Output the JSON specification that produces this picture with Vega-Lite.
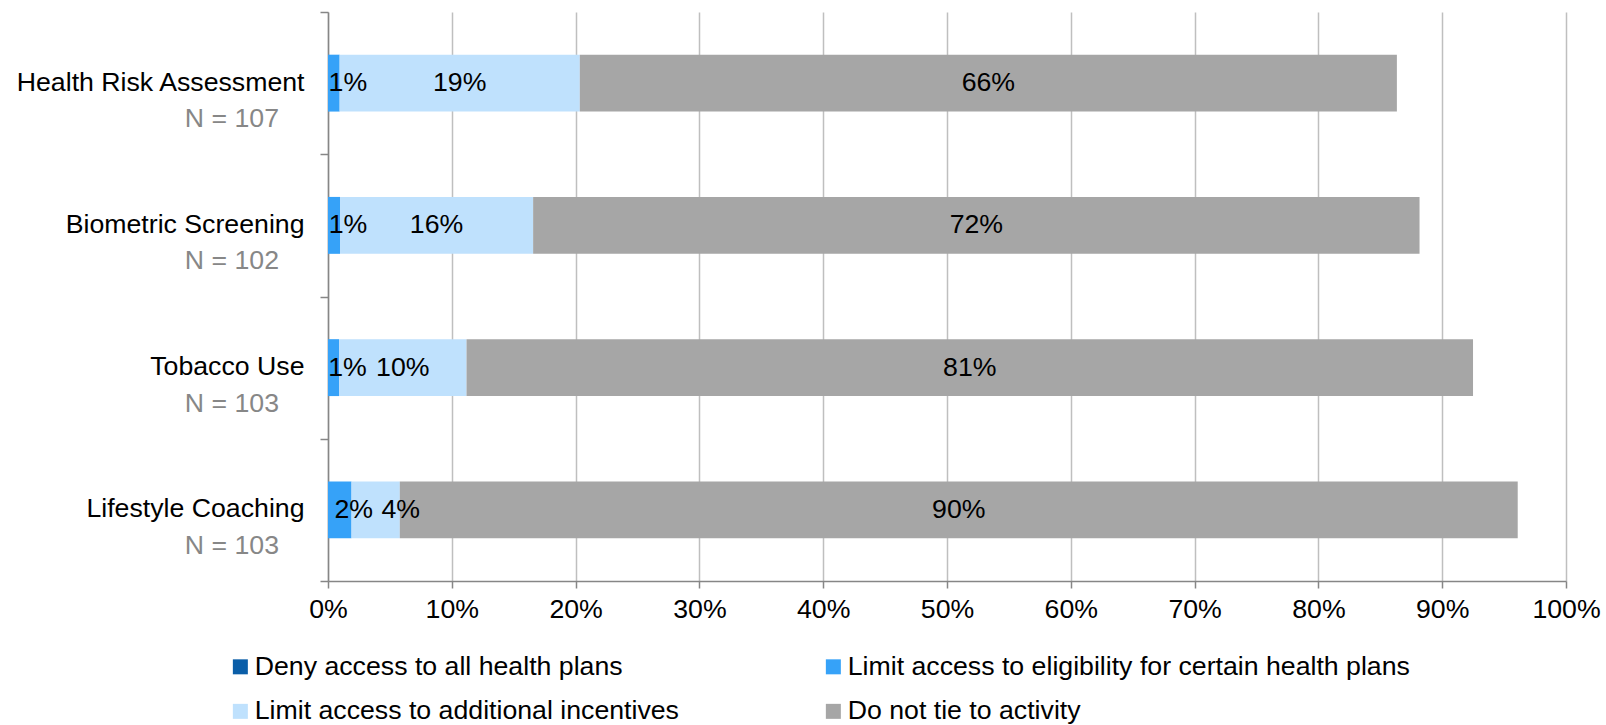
{
  "$schema": "https://vega.github.io/schema/vega-lite/v6.json",
  "width": 1238,
  "height": 569,
  "autosize": {"type": "none"},
  "padding": {"left": 328, "top": 12, "right": 40, "bottom": 144},
  "config": {
    "font": "Liberation Sans",
    "view": {"stroke": null}
  },
  "data": {
    "values": [
      {"cat": "Health Risk Assessment", "n": "N = 107", "type": "Deny access to all health plans", "ord": 1, "value": 0},
      {"cat": "Health Risk Assessment", "n": "N = 107", "type": "Limit access to eligibility for certain health plans", "ord": 2, "value": 0.0094},
      {"cat": "Health Risk Assessment", "n": "N = 107", "type": "Limit access to additional incentives", "ord": 3, "value": 0.194},
      {"cat": "Health Risk Assessment", "n": "N = 107", "type": "Do not tie to activity", "ord": 4, "value": 0.660},
      {"cat": "Biometric Screening", "n": "N = 102", "type": "Deny access to all health plans", "ord": 1, "value": 0},
      {"cat": "Biometric Screening", "n": "N = 102", "type": "Limit access to eligibility for certain health plans", "ord": 2, "value": 0.0097},
      {"cat": "Biometric Screening", "n": "N = 102", "type": "Limit access to additional incentives", "ord": 3, "value": 0.156},
      {"cat": "Biometric Screening", "n": "N = 102", "type": "Do not tie to activity", "ord": 4, "value": 0.716},
      {"cat": "Tobacco Use", "n": "N = 103", "type": "Deny access to all health plans", "ord": 1, "value": 0},
      {"cat": "Tobacco Use", "n": "N = 103", "type": "Limit access to eligibility for certain health plans", "ord": 2, "value": 0.0089},
      {"cat": "Tobacco Use", "n": "N = 103", "type": "Limit access to additional incentives", "ord": 3, "value": 0.103},
      {"cat": "Tobacco Use", "n": "N = 103", "type": "Do not tie to activity", "ord": 4, "value": 0.813},
      {"cat": "Lifestyle Coaching", "n": "N = 103", "type": "Deny access to all health plans", "ord": 1, "value": 0},
      {"cat": "Lifestyle Coaching", "n": "N = 103", "type": "Limit access to eligibility for certain health plans", "ord": 2, "value": 0.019},
      {"cat": "Lifestyle Coaching", "n": "N = 103", "type": "Limit access to additional incentives", "ord": 3, "value": 0.039},
      {"cat": "Lifestyle Coaching", "n": "N = 103", "type": "Do not tie to activity", "ord": 4, "value": 0.903}
    ]
  },
  "transform": [
    {"stack": "value", "groupby": ["cat"], "sort": [{"field": "ord", "order": "ascending"}], "as": ["v0", "v1"]},
    {"calculate": "(datum.v0 + datum.v1) / 2", "as": "mid"}
  ],
  "encoding": {
    "y": {
      "field": "cat",
      "type": "nominal",
      "sort": ["Health Risk Assessment", "Biometric Screening", "Tobacco Use", "Lifestyle Coaching"],
      "scale": {"paddingInner": 0, "paddingOuter": 0},
      "axis": {
        "title": null,
        "tickBand": "extent",
        "labelOffset": -1,
        "labelFontSize": 26.7,
        "labelColor": "#000000",
        "labelPadding": 16,
        "labelLimit": 400,
        "tickSize": 8,
        "tickColor": "#868686",
        "tickWidth": 1.5,
        "domainColor": "#868686",
        "domainWidth": 1.5,
        "grid": false
      }
    }
  },
  "layer": [
    {
      "mark": {"type": "bar", "height": {"band": 0.4}},
      "encoding": {
        "x": {
          "field": "v0",
          "type": "quantitative",
          "scale": {"domain": [0, 1], "nice": false},
          "axis": {
            "title": null,
            "values": [0, 0.1, 0.2, 0.3, 0.4, 0.5, 0.6, 0.7, 0.8, 0.9, 1],
            "format": ".0%",
            "grid": true,
            "gridColor": "#BFBFBF",
            "gridWidth": 1.5,
            "domainColor": "#868686",
            "domainWidth": 1.5,
            "tickColor": "#868686",
            "tickWidth": 1.5,
            "tickSize": 7,
            "labelFontSize": 26.7,
            "labelColor": "#000000",
            "labelPadding": 8,
            "labelFlush": false,
            "labelOverlap": false
          }
        },
        "x2": {"field": "v1"},
        "color": {
          "field": "type",
          "type": "nominal",
          "scale": {
            "domain": ["Deny access to all health plans", "Limit access to eligibility for certain health plans", "Limit access to additional incentives", "Do not tie to activity"],
            "range": ["#0A5EA8", "#36A2F8", "#BFE1FD", "#A6A6A6"]
          },
          "legend": {
            "title": null,
            "orient": "none",
            "legendX": -101,
            "legendY": 641,
            "columns": 2,
            "direction": "horizontal",
            "columnPadding": 141,
            "rowPadding": 17,
            "symbolType": "square",
            "symbolSize": 225,
            "symbolStrokeWidth": 0,
            "symbolOpacity": 1,
            "labelFontSize": 26.7,
            "labelColor": "#000000",
            "labelOffset": 1,
            "labelLimit": 700
          }
        }
      }
    },
    {
      "transform": [{"filter": "datum.value > 0"}],
      "mark": {
        "type": "text",
        "fontSize": 26.7,
        "color": "#000000",
        "baseline": "middle",
        "dx": {"expr": "datum.value < 0.025 ? 14 : (datum.value < 0.05 ? 25 : 0)"}
      },
      "encoding": {
        "x": {"field": "mid", "type": "quantitative"},
        "text": {"field": "value", "type": "quantitative", "format": ".0%"}
      }
    },
    {
      "transform": [{"filter": "datum.ord == 1"}],
      "mark": {"type": "text", "fontSize": 26.7, "color": "#878787", "align": "right", "baseline": "middle", "dx": -49, "dy": 36},
      "encoding": {
        "x": {"datum": 0, "type": "quantitative"},
        "text": {"field": "n", "type": "nominal"}
      }
    }
  ]
}
